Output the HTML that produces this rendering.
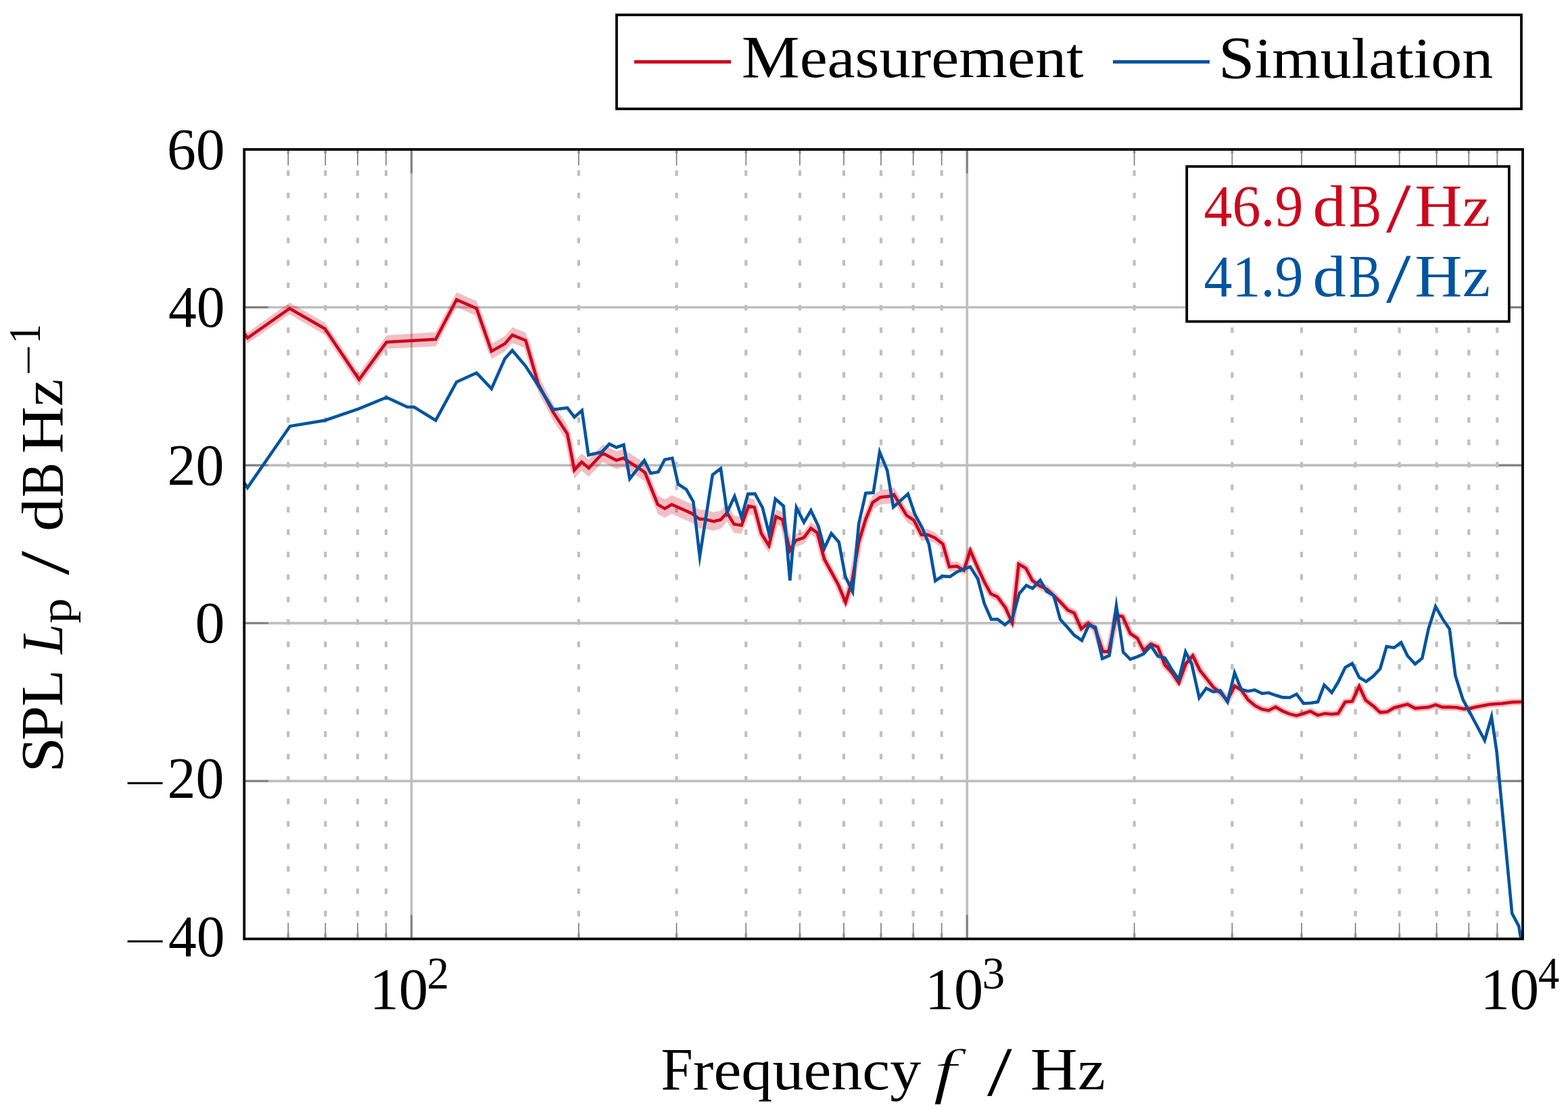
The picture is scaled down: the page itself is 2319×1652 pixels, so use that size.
<!DOCTYPE html>
<html><head><meta charset="utf-8"><title>SPL spectrum</title>
<style>html,body{margin:0;padding:0;background:#fff;overflow:hidden}svg{display:block}text{font-family:"Liberation Serif","DejaVu Serif",serif;font-kerning:none}</style></head><body>
<svg width="2319" height="1652" viewBox="0 0 2319 1652">
<rect width="2319" height="1652" fill="#fff"/>
<defs><clipPath id="pc"><rect x="361.2" y="221" width="1890.8" height="1167.6"/></clipPath></defs>
<path d="M426.26 1388.6V221M481.27 1388.6V221M528.93 1388.6V221M570.96 1388.6V221M855.91 1388.6V221M1000.61 1388.6V221M1103.27 1388.6V221M1182.9 1388.6V221M1247.96 1388.6V221M1302.97 1388.6V221M1350.63 1388.6V221M1392.66 1388.6V221M1677.61 1388.6V221M1822.31 1388.6V221M1924.97 1388.6V221M2004.6 1388.6V221M2069.66 1388.6V221M2124.67 1388.6V221M2172.33 1388.6V221M2214.36 1388.6V221" stroke="#bfbfbf" stroke-width="4.2" stroke-dasharray="8.3 24.89" fill="none"/>
<path d="M608.56 1388.6V221M1430.26 1388.6V221M361.2 1155.08H2252M361.2 921.56H2252M361.2 688.04H2252M361.2 454.52H2252" stroke="#bfbfbf" stroke-width="3.7" fill="none"/>
<path d="M426.26 1388.6v-23.7M426.26 221v23.7M481.27 1388.6v-23.7M481.27 221v23.7M528.93 1388.6v-23.7M528.93 221v23.7M570.96 1388.6v-23.7M570.96 221v23.7M855.91 1388.6v-23.7M855.91 221v23.7M1000.61 1388.6v-23.7M1000.61 221v23.7M1103.27 1388.6v-23.7M1103.27 221v23.7M1182.9 1388.6v-23.7M1182.9 221v23.7M1247.96 1388.6v-23.7M1247.96 221v23.7M1302.97 1388.6v-23.7M1302.97 221v23.7M1350.63 1388.6v-23.7M1350.63 221v23.7M1392.66 1388.6v-23.7M1392.66 221v23.7M1677.61 1388.6v-23.7M1677.61 221v23.7M1822.31 1388.6v-23.7M1822.31 221v23.7M1924.97 1388.6v-23.7M1924.97 221v23.7M2004.6 1388.6v-23.7M2004.6 221v23.7M2069.66 1388.6v-23.7M2069.66 221v23.7M2124.67 1388.6v-23.7M2124.67 221v23.7M2172.33 1388.6v-23.7M2172.33 221v23.7M2214.36 1388.6v-23.7M2214.36 221v23.7" stroke="#808080" stroke-width="1.7" fill="none"/>
<path d="M608.56 1388.6v-35.5M608.56 221v35.5M1430.26 1388.6v-35.5M1430.26 221v35.5M361.2 1155.08h35.5M2252 1155.08h-35.5M361.2 921.56h35.5M2252 921.56h-35.5M361.2 688.04h35.5M2252 688.04h-35.5M361.2 454.52h35.5M2252 454.52h-35.5" stroke="#808080" stroke-width="2.8" fill="none"/>
<g clip-path="url(#pc)" fill="none">
<g opacity="0.26"><polygon points="361.2,485 366.1,491.75 428.4,447.6 480.6,477.14 531.1,551.79 571.7,496.04 644.4,491.19 675.2,432.32 704.8,445.15 726.9,508.23 746.6,496.93 757.7,484.02 777.4,491.63 795.9,555.54 818,597.22 839,629.01 849.5,682.8 860.3,670.7 870.7,679.69 891.4,657.39 911.6,667.62 921.9,664.45 950.3,682.86 953.8,685.44 972.8,732.71 983.1,738.65 993.4,732.58 1022.8,745.28 1034.8,753.9 1041.7,753.86 1055.5,757.38 1065.9,755.13 1075.3,745.14 1085.5,762.38 1096.7,764.46 1107.1,736.3 1115.7,738.39 1126,777.53 1137.2,795.91 1147.6,753.25 1157.1,757.87 1168.3,803.94 1176.9,789.53 1189,785.63 1199.3,772.18 1208.8,778.95 1219.1,817.58 1239.8,855.14 1250.6,881.16 1260.5,847.99 1270,791.83 1280.3,757.66 1290.7,732.49 1301.9,724.8 1316.6,722.86 1322.1,720.5 1341,752.45 1351.4,759.87 1362.6,782.03 1372.1,782.5 1382.4,787.32 1394.5,797.43 1404,831.32 1415.2,830.48 1425.5,836.53 1435,807.27 1446.2,833.23 1456,854.28 1465.5,871.63 1475,875.98 1487.1,892.44 1497,914.49 1506.6,827.83 1517.2,833.89 1526.7,852.03 1537.1,859.89 1548.3,865.14 1558.6,874.69 1569,885.05 1579.3,896.3 1588.8,900.64 1599.1,924 1609.5,915.47 1619.8,924.15 1631,957.83 1639.7,957.9 1650.9,904.58 1660.3,906.35 1671.6,931.44 1681.9,938.41 1691.4,956.69 1702.1,947.17 1712.4,951.54 1722.8,978.32 1733.1,989.7 1743.4,1005.08 1753.8,976.85 1764.1,964.93 1774.5,986.51 1784.8,999.49 1795.2,1012.56 1805.5,1020.32 1815,1031.55 1826.2,1010.09 1835.7,1016.12 1846,1030.85 1856.4,1039.49 1866.7,1044.72 1876.2,1046.45 1886.6,1041.29 1896.9,1047.42 1907.2,1051.76 1917.6,1054.29 1928.8,1050.93 1937.8,1047.86 1949,1053.89 1959.3,1051.33 1969.7,1052.26 1979.1,1051.39 1989.5,1034.23 1999.8,1033.36 2010.2,1011.2 2019.7,1031.73 2030.9,1040.37 2041.2,1049.9 2051.6,1049.13 2061.9,1043.07 2072.2,1040.5 2081.7,1038.03 2092.9,1044.07 2102.4,1043.2 2112.8,1042.44 2123.1,1038.97 2133.4,1042.51 2143.8,1042.54 2154.1,1042.88 2164.5,1045.11 2174.8,1044.34 2183.2,1042.27 2203.4,1038.54 2221,1037.4 2236.2,1035.45 2252,1035 2252,1041 2236.2,1041.55 2221,1043.6 2203.4,1044.86 2183.2,1048.73 2174.8,1050.86 2164.5,1051.69 2154.1,1049.52 2143.8,1049.26 2133.4,1049.29 2123.1,1045.83 2112.8,1049.36 2102.4,1050.2 2092.9,1051.13 2081.7,1045.17 2072.2,1047.7 2061.9,1050.33 2051.6,1056.47 2041.2,1057.3 2030.9,1047.83 2019.7,1039.27 2010.2,1018.8 1999.8,1041.04 1989.5,1041.97 1979.1,1059.21 1969.7,1060.14 1959.3,1059.27 1949,1061.91 1937.8,1055.94 1928.8,1059.07 1917.6,1062.51 1907.2,1060.04 1896.9,1055.78 1886.6,1049.71 1876.2,1054.95 1866.7,1053.28 1856.4,1048.11 1846,1039.55 1835.7,1024.88 1826.2,1018.91 1815,1040.45 1805.5,1029.28 1795.2,1021.64 1784.8,1008.71 1774.5,995.89 1764.1,974.47 1753.8,986.55 1743.4,1014.92 1733.1,999.7 1722.8,988.48 1712.4,961.86 1702.1,957.63 1691.4,967.31 1681.9,949.19 1671.6,942.36 1660.3,917.45 1650.9,915.82 1639.7,969.3 1631,969.37 1619.8,935.85 1609.5,927.33 1599.1,936 1588.8,912.76 1579.3,908.5 1569,897.36 1558.6,887.11 1548.3,877.66 1537.1,872.51 1526.7,864.77 1517.2,846.71 1506.6,840.77 1497,927.51 1487.1,905.56 1475,889.23 1465.5,884.97 1456,867.72 1446.2,846.77 1435,820.93 1425.5,850.27 1415.2,844.32 1404,845.28 1394.5,811.98 1382.4,803.08 1372.1,799.29 1362.6,799.77 1351.4,778.73 1341,772.35 1322.1,742.29 1316.6,744.74 1301.9,746.2 1290.7,753.51 1280.3,778.34 1270,812.17 1260.5,868.01 1250.6,900.84 1239.8,874.46 1219.1,836.22 1208.8,797.25 1199.3,790.22 1189,804.37 1176.9,809.07 1168.3,824.06 1157.1,778.73 1147.6,774.75 1137.2,818.09 1126,800.47 1115.7,762.01 1107.1,760.5 1096.7,789.34 1085.5,788.02 1075.3,771.46 1065.9,782.07 1055.5,785.02 1041.7,781.74 1034.8,781.7 1022.8,772.92 993.4,759.82 983.1,765.75 972.8,759.69 953.8,712.16 950.3,709.54 921.9,690.75 911.6,693.78 891.4,683.21 870.7,705.11 860.3,695.9 849.5,707.79 839,653.79 818,621.58 795.9,579.46 777.4,515.17 757.7,507.18 746.6,519.87 726.9,530.77 704.8,467.25 675.2,453.88 644.4,512.21 571.7,515.76 531.1,570.81 480.6,495.26 428.4,464.8 366.1,507.85 361.2,501" fill="#CC071E"/><polyline points="361.2,493 366.1,499.8 428.4,456.2 480.6,486.2 531.1,561.3 571.7,505.9 644.4,501.7 675.2,443.1 704.8,456.2 726.9,519.5 746.6,508.4 757.7,495.6 777.4,503.4 795.9,567.5 818,609.4 839,641.4 849.5,695.3 860.3,683.3 870.7,692.4 891.4,670.3 911.6,680.7 921.9,677.6 950.3,696.2 953.8,698.8 972.8,746.2 983.1,752.2 993.4,746.2 1022.8,759.1 1034.8,767.8 1041.7,767.8 1055.5,771.2 1065.9,768.6 1075.3,758.3 1085.5,775.2 1096.7,776.9 1107.1,748.4 1115.7,750.2 1126,789 1137.2,807 1147.6,764 1157.1,768.3 1168.3,814 1176.9,799.3 1189,795 1199.3,781.2 1208.8,788.1 1219.1,826.9 1239.8,864.8 1250.6,891 1260.5,858 1270,802 1280.3,768 1290.7,743 1301.9,735.5 1316.6,733.8 1322.1,731.4 1341,762.4 1351.4,769.3 1362.6,790.9 1372.1,790.9 1382.4,795.2 1394.5,804.7 1404,838.3 1415.2,837.4 1425.5,843.4 1435,814.1 1446.2,840 1456,861 1465.5,878.3 1475,882.6 1487.1,899 1497,921 1506.6,834.3 1517.2,840.3 1526.7,858.4 1537.1,866.2 1548.3,871.4 1558.6,880.9 1569,891.2 1579.3,902.4 1588.8,906.7 1599.1,930 1609.5,921.4 1619.8,930 1631,963.6 1639.7,963.6 1650.9,910.2 1660.3,911.9 1671.6,936.9 1681.9,943.8 1691.4,962 1702.1,952.4 1712.4,956.7 1722.8,983.4 1733.1,994.7 1743.4,1010 1753.8,981.7 1764.1,969.7 1774.5,991.2 1784.8,1004.1 1795.2,1017.1 1805.5,1024.8 1815,1036 1826.2,1014.5 1835.7,1020.5 1846,1035.2 1856.4,1043.8 1866.7,1049 1876.2,1050.7 1886.6,1045.5 1896.9,1051.6 1907.2,1055.9 1917.6,1058.4 1928.8,1055 1937.8,1051.9 1949,1057.9 1959.3,1055.3 1969.7,1056.2 1979.1,1055.3 1989.5,1038.1 1999.8,1037.2 2010.2,1015 2019.7,1035.5 2030.9,1044.1 2041.2,1053.6 2051.6,1052.8 2061.9,1046.7 2072.2,1044.1 2081.7,1041.6 2092.9,1047.6 2102.4,1046.7 2112.8,1045.9 2123.1,1042.4 2133.4,1045.9 2143.8,1045.9 2154.1,1046.2 2164.5,1048.4 2174.8,1047.6 2183.2,1045.5 2203.4,1041.7 2221,1040.5 2236.2,1038.5 2252,1038" stroke="#CC071E" stroke-width="10" stroke-linejoin="round"/></g>
<polyline points="361.2,493 366.1,499.8 428.4,456.2 480.6,486.2 531.1,561.3 571.7,505.9 644.4,501.7 675.2,443.1 704.8,456.2 726.9,519.5 746.6,508.4 757.7,495.6 777.4,503.4 795.9,567.5 818,609.4 839,641.4 849.5,695.3 860.3,683.3 870.7,692.4 891.4,670.3 911.6,680.7 921.9,677.6 950.3,696.2 953.8,698.8 972.8,746.2 983.1,752.2 993.4,746.2 1022.8,759.1 1034.8,767.8 1041.7,767.8 1055.5,771.2 1065.9,768.6 1075.3,758.3 1085.5,775.2 1096.7,776.9 1107.1,748.4 1115.7,750.2 1126,789 1137.2,807 1147.6,764 1157.1,768.3 1168.3,814 1176.9,799.3 1189,795 1199.3,781.2 1208.8,788.1 1219.1,826.9 1239.8,864.8 1250.6,891 1260.5,858 1270,802 1280.3,768 1290.7,743 1301.9,735.5 1316.6,733.8 1322.1,731.4 1341,762.4 1351.4,769.3 1362.6,790.9 1372.1,790.9 1382.4,795.2 1394.5,804.7 1404,838.3 1415.2,837.4 1425.5,843.4 1435,814.1 1446.2,840 1456,861 1465.5,878.3 1475,882.6 1487.1,899 1497,921 1506.6,834.3 1517.2,840.3 1526.7,858.4 1537.1,866.2 1548.3,871.4 1558.6,880.9 1569,891.2 1579.3,902.4 1588.8,906.7 1599.1,930 1609.5,921.4 1619.8,930 1631,963.6 1639.7,963.6 1650.9,910.2 1660.3,911.9 1671.6,936.9 1681.9,943.8 1691.4,962 1702.1,952.4 1712.4,956.7 1722.8,983.4 1733.1,994.7 1743.4,1010 1753.8,981.7 1764.1,969.7 1774.5,991.2 1784.8,1004.1 1795.2,1017.1 1805.5,1024.8 1815,1036 1826.2,1014.5 1835.7,1020.5 1846,1035.2 1856.4,1043.8 1866.7,1049 1876.2,1050.7 1886.6,1045.5 1896.9,1051.6 1907.2,1055.9 1917.6,1058.4 1928.8,1055 1937.8,1051.9 1949,1057.9 1959.3,1055.3 1969.7,1056.2 1979.1,1055.3 1989.5,1038.1 1999.8,1037.2 2010.2,1015 2019.7,1035.5 2030.9,1044.1 2041.2,1053.6 2051.6,1052.8 2061.9,1046.7 2072.2,1044.1 2081.7,1041.6 2092.9,1047.6 2102.4,1046.7 2112.8,1045.9 2123.1,1042.4 2133.4,1045.9 2143.8,1045.9 2154.1,1046.2 2164.5,1048.4 2174.8,1047.6 2183.2,1045.5 2203.4,1041.7 2221,1040.5 2236.2,1038.5 2252,1038" stroke="#CC071E" stroke-width="4.6" stroke-miterlimit="10"/>
<polyline points="361.2,714 366,721.4 428.9,630.3 480.6,621.7 531.1,604.4 571.7,587.7 602.5,602 612.4,602 644.4,621.7 675.2,565 704.8,551.5 726.9,574.9 746.6,530.5 757.7,518.2 777.4,541.6 795.9,570 818,605.7 839,603.2 849.5,616.9 860.7,607 870.2,672.9 890,668.6 901.2,656.6 911.6,661.7 922.4,657.9 931.4,708 952.9,681 962.4,700 973.6,697.9 983.1,679.8 994.3,677.6 1002.9,716 1015,723.8 1025.3,741.9 1034.9,823 1053.8,702.2 1065.9,693 1075.3,758 1086.4,734 1096.7,765 1106.2,730.6 1116.6,730.3 1127.8,751 1137.5,790 1146.7,738 1158.8,748.4 1168.3,858.5 1177.8,750.6 1189,772.5 1199.3,755 1210.5,778.6 1219.1,811 1229.5,789 1240.7,801.9 1250.2,852.8 1261,875 1270,775.2 1280.3,729.5 1291.6,728.6 1301,668.5 1312.2,695.9 1321.2,750 1342.8,730.5 1353.1,760.7 1364.3,781.4 1373.8,804.7 1383.3,859 1393.6,852.1 1404.8,852.9 1415.2,846 1425.5,841.7 1435,838.3 1446.2,856.4 1455.7,892.6 1466,916 1475.5,915.9 1486.2,924 1497.1,915 1507.4,877.9 1517.8,865.9 1527.2,870.2 1538.4,858.1 1547.9,874.5 1558.3,880.5 1568.1,916.2 1578.4,927.4 1588.8,939.5 1600,947.2 1610.3,924.8 1619.8,927.4 1630.2,974 1640.5,969.7 1651,896 1661.2,964.5 1671.6,975 1681.9,971.4 1691.4,967.1 1702.1,955 1712.4,970.5 1722.8,973.1 1733.1,990.3 1743.4,1005 1753.4,964 1762.4,981.7 1773.6,1032 1784,1017.9 1794.3,1023.1 1804.7,1021.4 1815.5,1038 1825.9,995 1835.7,1019.7 1846,1022.2 1855.5,1020.5 1866.7,1025.7 1876.2,1024.5 1886.6,1028.3 1896.9,1031.4 1907.2,1031.7 1917.6,1026.6 1927.9,1040.3 1938.6,1039.8 1949,1038.1 1958.4,1013.1 1969.7,1024.3 1979.1,1008.8 1989.5,987.2 1999.8,981.2 2010.2,1001.9 2020.5,1007.9 2030.9,1000.2 2041.2,989 2050.7,956.2 2061.9,957.9 2072.2,950.2 2081.7,970 2092.9,982.1 2103.3,973.4 2112.8,929.5 2123.1,897 2134.3,916.6 2143.8,930.3 2152.4,999.3 2163.6,1034.7 2195.8,1095 2205.9,1060 2213.5,1111.1 2236.2,1350.9 2246.3,1369.8 2249.5,1389" stroke="#00549F" stroke-width="4.6" stroke-miterlimit="10"/>
</g>
<rect x="361.2" y="221" width="1890.8" height="1167.6" fill="none" stroke="#000" stroke-width="3.8"/>
<rect x="1755.2" y="246.2" width="476.7" height="229.3" fill="#fff" stroke="#000" stroke-width="3.8"/>
<rect x="912" y="22" width="1338" height="139" fill="#fff" stroke="#000" stroke-width="3.8"/>
<path d="M938 91.4H1081" stroke="#CC071E" stroke-width="5"/>
<path d="M1646 91.4H1789" stroke="#00549F" stroke-width="5"/>
<text><tspan x="1096.8" y="114.1" font-size="87.8" textLength="505.9" lengthAdjust="spacingAndGlyphs">M<tspan font-size="83.9">easurement</tspan></tspan></text>
<text><tspan x="1802.08" y="114.5" font-size="87.8" textLength="406.17" lengthAdjust="spacingAndGlyphs">S<tspan font-size="83.9">imulation</tspan></tspan></text>
<text><tspan x="246.99" y="249.5" font-size="86.4" textLength="85.59" lengthAdjust="spacingAndGlyphs">60</tspan></text>
<text><tspan x="249.01" y="483" font-size="86.4" textLength="83.5" lengthAdjust="spacingAndGlyphs">40</tspan></text>
<text><tspan x="247.59" y="716.5" font-size="86.4" textLength="83.83" lengthAdjust="spacingAndGlyphs">20</tspan></text>
<text><tspan x="288.4" y="949.9" font-size="86.4" textLength="44.02" lengthAdjust="spacingAndGlyphs">0</tspan></text>
<text><tspan x="182.96" y="1178.32" font-size="60" textLength="63.14" lengthAdjust="spacingAndGlyphs">−</tspan><tspan x="247.59" y="1180" font-size="86.4" textLength="83.83" lengthAdjust="spacingAndGlyphs">20</tspan></text>
<text><tspan x="182.96" y="1411.82" font-size="60" textLength="63.14" lengthAdjust="spacingAndGlyphs">−</tspan><tspan x="249.01" y="1414" font-size="86.4" textLength="83.5" lengthAdjust="spacingAndGlyphs">40</tspan></text>
<text><tspan x="546.45" y="1492" font-size="86.4" textLength="86.86" lengthAdjust="spacingAndGlyphs">10</tspan><tspan x="631.51" y="1462" font-size="66.7" textLength="32.67" lengthAdjust="spacingAndGlyphs">2</tspan></text>
<text><tspan x="1367.99" y="1492" font-size="86.4" textLength="86.19" lengthAdjust="spacingAndGlyphs">10</tspan><tspan x="1452.44" y="1462" font-size="66.7" textLength="33.7" lengthAdjust="spacingAndGlyphs">3</tspan></text>
<text><tspan x="2189.45" y="1492" font-size="86.4" textLength="86.86" lengthAdjust="spacingAndGlyphs">10</tspan><tspan x="2275.06" y="1462" font-size="66.7" textLength="31.19" lengthAdjust="spacingAndGlyphs">4</tspan></text>
<text><tspan x="1780.52" y="334" font-size="86.4" textLength="146.9" lengthAdjust="spacingAndGlyphs" fill="#CC071E">46.9</tspan> <tspan x="1941.57" y="334" font-size="86" textLength="49.2" lengthAdjust="spacingAndGlyphs" fill="#CC071E">d</tspan><tspan x="1995.09" y="334" font-size="87.8" textLength="48" lengthAdjust="spacingAndGlyphs" fill="#CC071E">B</tspan><tspan x="2049.97" y="342.98" font-size="104.6" textLength="36.57" lengthAdjust="spacingAndGlyphs" fill="#CC071E">/</tspan><tspan x="2092.27" y="334" font-size="87.8" textLength="111.8" lengthAdjust="spacingAndGlyphs" fill="#CC071E">H<tspan font-size="83.9">z</tspan></tspan></text>
<text><tspan x="1780.52" y="437.8" font-size="86.4" textLength="146.9" lengthAdjust="spacingAndGlyphs" fill="#00549F">41.9</tspan> <tspan x="1941.57" y="437.8" font-size="86" textLength="49.2" lengthAdjust="spacingAndGlyphs" fill="#00549F">d</tspan><tspan x="1995.09" y="437.8" font-size="87.8" textLength="48" lengthAdjust="spacingAndGlyphs" fill="#00549F">B</tspan><tspan x="2049.97" y="446.98" font-size="104.6" textLength="36.57" lengthAdjust="spacingAndGlyphs" fill="#00549F">/</tspan><tspan x="2092.27" y="437.8" font-size="87.8" textLength="111.8" lengthAdjust="spacingAndGlyphs" fill="#00549F">H<tspan font-size="83.9">z</tspan></tspan></text>
<text><tspan x="977.46" y="1611" font-size="87.8" textLength="47.3" lengthAdjust="spacingAndGlyphs">F</tspan><tspan x="1024.8" y="1611" font-size="83.9" textLength="337.46" lengthAdjust="spacingAndGlyphs">requency</tspan> <tspan x="1379.96" y="1614.7" font-size="91.4" textLength="35.18" lengthAdjust="spacingAndGlyphs" font-style="italic" stroke="#fff" stroke-width="1.5">f</tspan> <tspan x="1460" y="1619.88" font-size="104.6" textLength="36.72" lengthAdjust="spacingAndGlyphs">/</tspan> <tspan x="1523.76" y="1611" font-size="87.8" textLength="110.97" lengthAdjust="spacingAndGlyphs">H<tspan font-size="83.9">z</tspan></tspan></text>
<g transform="rotate(-90)"><text><tspan x="-1142.42" y="92" font-size="87.8" textLength="52.22" lengthAdjust="spacingAndGlyphs">S</tspan><tspan x="-1095.27" y="92" font-size="87.8" textLength="51.4" lengthAdjust="spacingAndGlyphs">P</tspan><tspan x="-1044.72" y="92" font-size="87.8" textLength="54.36" lengthAdjust="spacingAndGlyphs">L</tspan> <tspan x="-967.14" y="91.8" font-size="86" textLength="44.3" lengthAdjust="spacingAndGlyphs" font-style="italic">L</tspan><tspan x="-922.12" y="104.7" font-size="65" textLength="37.41" lengthAdjust="spacingAndGlyphs">p</tspan> <tspan x="-850.53" y="101.08" font-size="104.6" textLength="35.72" lengthAdjust="spacingAndGlyphs">/</tspan> <tspan x="-786.14" y="92" font-size="86" textLength="49.41" lengthAdjust="spacingAndGlyphs">d</tspan><tspan x="-735.51" y="92" font-size="87.8" textLength="51.43" lengthAdjust="spacingAndGlyphs">B</tspan> <tspan x="-670.79" y="91.7" font-size="87.8" textLength="110.49" lengthAdjust="spacingAndGlyphs">H<tspan font-size="83.9">z</tspan></tspan><tspan x="-555.68" y="62.22" font-size="60" textLength="46.29" lengthAdjust="spacingAndGlyphs">−</tspan><tspan x="-508.2" y="58.9" font-size="66.7" textLength="28.88" lengthAdjust="spacingAndGlyphs">1</tspan></text></g>
</svg></body></html>
